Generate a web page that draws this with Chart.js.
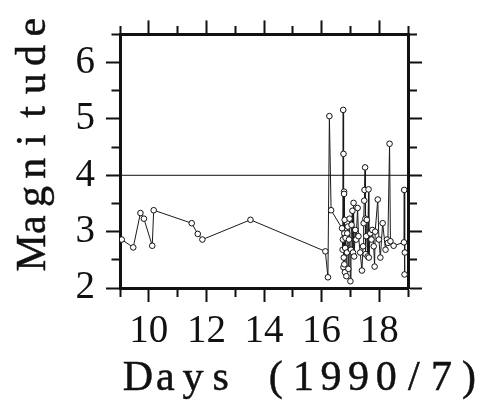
<!DOCTYPE html>
<html>
<head>
<meta charset="utf-8">
<script src="https://cdn.jsdelivr.net/npm/chart.js@4.4.1/dist/chart.umd.min.js"></script>
<style>
  html, body { margin: 0; padding: 0; background: #fff; }
  canvas { display: block; }
</style>
</head>
<body>
<canvas id="magChart" width="489" height="408"></canvas>
<script>
// event times (day of July 1990) and magnitudes
var dayValues = [9.06, 9.46, 9.71, 9.83, 10.12, 10.17, 11.49, 11.70, 11.86, 13.53,
    16.13, 16.22, 16.27, 16.33, 16.71, 16.73, 16.74, 16.75, 16.76, 16.76,
    16.77, 16.78, 16.78, 16.79, 16.79, 16.80, 16.81, 16.82, 16.83, 16.86,
    16.88, 16.89, 16.91, 16.93, 16.95, 16.97, 17.00, 17.02, 17.04, 17.07,
    17.09, 17.11, 17.13, 17.17, 17.20, 17.25, 17.28, 17.34, 17.40, 17.44,
    17.46, 17.48, 17.49, 17.51, 17.52, 17.53, 17.55, 17.57, 17.60, 17.63,
    17.64, 17.69, 17.73, 17.76, 17.81, 17.84, 17.86, 17.95, 17.99, 18.04,
    18.12, 18.22, 18.27, 18.30, 18.36, 18.39, 18.50, 18.86, 18.87, 18.88,
    18.89];
var magnitudeValues = [2.86, 2.72, 3.33, 3.23, 2.75, 3.38, 3.15, 2.96, 2.86, 3.21,
    2.65, 2.19, 5.05, 3.38, 3.06, 2.68, 2.86, 5.16, 2.37, 4.38,
    2.54, 3.71, 3.67, 2.97, 2.42, 3.21, 2.28, 2.71, 2.89, 2.21,
    2.63, 2.97, 3.09, 2.34, 2.86, 3.23, 2.12, 2.68, 3.12, 3.37,
    2.63, 3.51, 2.56, 3.03, 2.86, 3.42, 2.92, 2.63, 2.31, 2.74,
    3.15, 3.55, 3.74, 4.14, 3.23, 2.60, 2.92, 3.21, 2.56, 3.75,
    2.54, 2.97, 2.86, 3.03, 2.74, 2.38, 3.00, 3.57, 2.86, 2.54,
    3.15, 2.68, 2.86, 2.80, 4.56, 2.83, 2.75, 2.81, 3.74, 2.24,
    2.63];
var thresholdMagnitude = 4;
var dayRange = [9, 19];
var magnitudeRange = [2, 6.5];
var dayTickLabels = [10, 12, 14, 16, 18];
var magnitudeTickLabels = [2, 3, 4, 5, 6];
var xTitle = "Days (1990/7)";
var yTitle = "Magnitude";

var ink = "#111";
var tickFont = { family: "'Liberation Serif', serif", size: 39 };
var titleFont = "42px 'Liberation Serif', serif";

function isMajorDay(v) { return dayTickLabels.indexOf(v) >= 0; }
function isMajorMag(v) { return magnitudeTickLabels.indexOf(v) >= 0; }

// minor ticks are drawn half length with a dash; top/left ticks are stroked from the outer end
function tickDash(isMajor, outerFirst) {
    return function(ctx) {
        if (!ctx.tick || isMajor(ctx.tick.value)) return [];
        return outerFirst ? [0, 5.5, 10, 100] : [7, 100];
    };
}

function axisStyle(isMajor, outerFirst) {
    return {
        grid: {
            drawOnChartArea: false,
            drawTicks: true,
            tickLength: 14,
            tickWidth: 2,
            tickColor: ink,
            tickBorderDash: tickDash(isMajor, outerFirst)
        },
        border: { display: true, width: 3, color: ink }
    };
}

var points = dayValues.map(function(d, i) { return { x: d, y: magnitudeValues[i] }; });
var threshold = dayRange.map(function(d) { return { x: d, y: thresholdMagnitude }; });

// titles are set in fixed-width cells, like the typewriter-style original
function drawSpaced(c, text, cell) {
    for (var i = 0; i < text.length; i++) {
        c.fillText(text[i], (i + 0.5) * cell, 0);
        c.strokeText(text[i], (i + 0.5) * cell, 0);
    }
}

var axisTitles = {
    id: "axisTitles",
    afterDraw: function(chart) {
        var c = chart.ctx;
        c.save();
        c.fillStyle = ink;
        c.strokeStyle = ink;
        c.lineWidth = 0.5;
        c.font = titleFont;
        c.textAlign = "center";
        c.textBaseline = "alphabetic";
        c.save();
        c.translate(124, 390);
        drawSpaced(c, xTitle, 27.6);
        c.restore();
        c.translate(45, 267);
        c.rotate(-Math.PI / 2);
        drawSpaced(c, yTitle, 28.2);
        c.restore();
    }
};

var xMain = axisStyle(isMajorDay, false);
var xTop = axisStyle(isMajorDay, true);
var yMain = axisStyle(isMajorMag, true);
var yRight = axisStyle(isMajorMag, false);

var chart = new Chart(document.getElementById("magChart").getContext("2d"), {
    type: "line",
    data: {
        datasets: [
            {
                data: threshold,
                borderColor: ink,
                borderWidth: 1,
                pointRadius: 0,
                fill: false
            },
            {
                data: points,
                borderColor: "#1a1a1a",
                borderWidth: 1,
                pointRadius: 2.8,
                pointBorderWidth: 1,
                pointBorderColor: ink,
                pointBackgroundColor: "#fff",
                tension: 0,
                fill: false
            }
        ]
    },
    options: {
        responsive: false,
        devicePixelRatio: 1,
        animation: false,
        layout: { padding: 0 },
        plugins: { legend: { display: false }, tooltip: { enabled: false } },
        scales: {
            x: {
                type: "linear", position: "bottom",
                min: dayRange[0], max: dayRange[1],
                grid: xMain.grid, border: xMain.border,
                ticks: {
                    stepSize: 1, autoSkip: false, maxRotation: 0, padding: 6,
                    color: ink, font: tickFont,
                    callback: function(v) { return isMajorDay(v) ? String(v) : ""; }
                },
                afterFit: function(s) { s.height = 120; }
            },
            x2: {
                type: "linear", position: "top",
                min: dayRange[0], max: dayRange[1],
                grid: xTop.grid, border: xTop.border,
                ticks: { stepSize: 1, autoSkip: false, display: false },
                afterFit: function(s) { s.height = 31; }
            },
            y: {
                type: "linear", position: "left",
                min: magnitudeRange[0], max: magnitudeRange[1],
                grid: yMain.grid, border: yMain.border,
                ticks: {
                    stepSize: 0.5, autoSkip: false, padding: 11,
                    color: ink, font: tickFont,
                    callback: function(v) { return isMajorMag(v) ? String(v) : ""; }
                },
                afterFit: function(s) { s.width = 120; }
            },
            y2: {
                type: "linear", position: "right",
                min: magnitudeRange[0], max: magnitudeRange[1],
                grid: yRight.grid, border: yRight.border,
                ticks: { stepSize: 0.5, autoSkip: false, display: false },
                afterFit: function(s) { s.width = 81; }
            }
        }
    },
    plugins: [axisTitles]
});
</script>
</body>
</html>
